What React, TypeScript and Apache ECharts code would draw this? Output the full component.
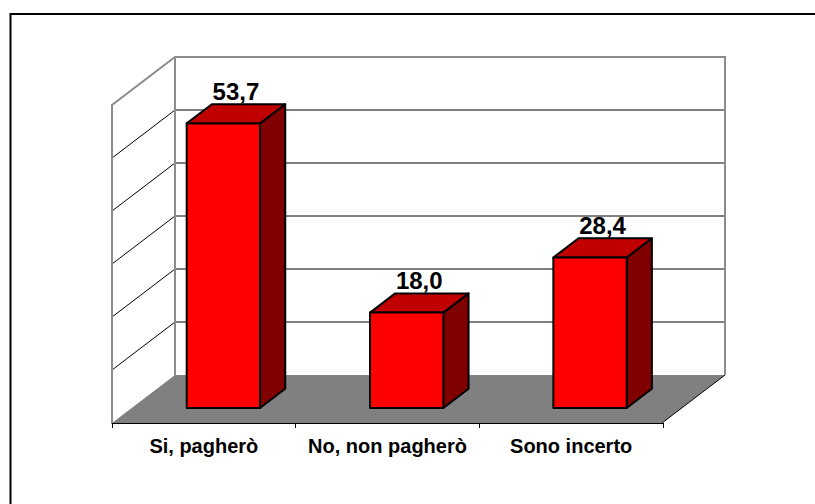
import React, { useEffect, useRef } from "react";
import * as echarts from "echarts";

const categories = ["Si, pagherò", "No, non pagherò", "Sono incerto"];
const values = [53.7, 18.0, 28.4];
const yTicks = [0, 10, 20, 30, 40, 50, 60];

const FONT = "'Liberation Sans', Arial, sans-serif";
// projection of depth (back wall -> front edge of the floor)
const DX = -63;
const DY = 48;
const BAR_FRONT = 0.6875;
const BAR_DEPTH = 0.4;
const BAR_WIDTH = 0.4;

export default function App() {
  const ref = useRef<HTMLDivElement>(null);
  useEffect(() => {
    if (!ref.current) return;
    const chart = echarts.init(ref.current, null, { renderer: "svg" });
    const yMin = yTicks[0];
    const yMax = yTicks[yTicks.length - 1];
    const option: any = {
      animation: false,
      backgroundColor: "#ffffff",
      graphic: [
        {
          type: "rect",
          shape: { x: 10.5, y: 14, width: 900, height: 600 },
          style: { fill: "none", stroke: "#000000", lineWidth: 2 },
          z: 100,
        },
      ],
      grid: [
        { left: 175, right: 90, top: 57, bottom: 129 },
        { left: 112, right: 152, top: 105, bottom: 81 },
      ],
      xAxis: [
        {
          gridIndex: 0,
          type: "category",
          data: categories,
          show: false,
        },
        {
          gridIndex: 1,
          type: "category",
          data: categories,
          z: 10,
          axisLine: { show: true, lineStyle: { color: "#000000", width: 1 } },
          axisTick: { show: true, length: 5, lineStyle: { color: "#000000", width: 1 } },
          axisLabel: {
            interval: 0,
            hideOverlap: false,
            color: "#000000",
            fontFamily: FONT,
            fontWeight: "bold",
            fontSize: 20,
            margin: 13,
          },
        },
      ],
      yAxis: [
        {
          gridIndex: 0,
          type: "value",
          min: yMin,
          max: yMax,
          interval: yTicks[1] - yTicks[0],
          show: false,
          splitLine: { show: false },
        },
        {
          gridIndex: 1,
          type: "value",
          min: yMin,
          max: yMax,
          show: false,
          splitLine: { show: false },
        },
      ],
      series: [
        {
          type: "custom",
          xAxisIndex: 0,
          yAxisIndex: 0,
          z: 1,
          clip: false,
          silent: true,
          data: [[0, 0]],
          renderItem: (params: any, api: any) => {
            const cs = params.coordSys;
            const x0 = cs.x;
            const x1 = cs.x + cs.width;
            const yb = api.coord([0, yMin])[1];
            const yt = api.coord([0, yMax])[1];
            const children: any[] = [];
            children.push({
              type: "polygon",
              shape: {
                points: [
                  [x0, yb],
                  [x1, yb],
                  [x1 + DX, yb + DY],
                  [x0 + DX, yb + DY],
                ],
              },
              style: { fill: "#808080", stroke: "none" },
            });
            children.push({
              type: "line",
              shape: { x1: x1, y1: yb, x2: x1 + DX, y2: yb + DY },
              style: { stroke: "#000000", lineWidth: 1 },
            });
            yTicks.forEach((t) => {
              if (t <= yMin || t >= yMax) return;
              const y = api.coord([0, t])[1];
              children.push({
                type: "line",
                shape: { x1: x0, y1: y, x2: x1, y2: y },
                style: { stroke: "#000000", lineWidth: 1 },
              });
              children.push({
                type: "line",
                shape: { x1: x0 + DX, y1: y + DY, x2: x0, y2: y },
                style: { stroke: "#000000", lineWidth: 1 },
              });
            });
            children.push({
              type: "polyline",
              shape: {
                points: [
                  [x0 + DX, yb + DY],
                  [x0 + DX, yt + DY],
                  [x0, yt],
                  [x1, yt],
                  [x1, yb],
                ],
              },
              style: { stroke: "#8c8c8c", lineWidth: 2, fill: "none" },
            });
            children.push({
              type: "line",
              shape: { x1: x0, y1: yt, x2: x0, y2: yb },
              style: { stroke: "#8c8c8c", lineWidth: 2 },
            });
            return { type: "group", children };
          },
        },
        {
          type: "custom",
          xAxisIndex: 0,
          yAxisIndex: 0,
          z: 2,
          clip: false,
          data: values.map((v, i) => [i, v]),
          renderItem: (params: any, api: any) => {
            const i = api.value(0);
            const v = api.value(1);
            const base = api.coord([i, 0]);
            const top = api.coord([i, v]);
            const bw = api.size([1, 0])[0] * BAR_WIDTH;
            const fx = base[0] + DX * BAR_FRONT;
            const fyb = base[1] + DY * BAR_FRONT;
            const fyt = top[1] + DY * BAR_FRONT;
            const ddx = -DX * BAR_DEPTH;
            const ddy = DY * BAR_DEPTH;
            const l = fx - bw / 2;
            const r = fx + bw / 2;
            const stroke = { stroke: "#000000", lineWidth: 2, lineJoin: "round" };
            const label = v.toFixed(1).replace(".", ",");
            return {
              type: "group",
              children: [
                {
                  type: "polygon",
                  shape: {
                    points: [
                      [r, fyt],
                      [r + ddx, fyt - ddy],
                      [r + ddx, fyb - ddy],
                      [r, fyb],
                    ],
                  },
                  style: { fill: "#800000", ...stroke },
                },
                {
                  type: "polygon",
                  shape: {
                    points: [
                      [l, fyt],
                      [l + ddx, fyt - ddy],
                      [r + ddx, fyt - ddy],
                      [r, fyt],
                    ],
                  },
                  style: { fill: "#c00000", ...stroke },
                },
                {
                  type: "rect",
                  shape: { x: l, y: fyt, width: bw, height: fyb - fyt },
                  style: { fill: "#ff0000", ...stroke },
                },
                {
                  type: "text",
                  x: fx + ddx / 2,
                  y: fyt - ddy - 1,
                  style: {
                    text: label,
                    fill: "#000000",
                    font: `bold 24px ${FONT}`,
                    textAlign: "center",
                    textVerticalAlign: "bottom",
                  },
                },
              ],
            };
          },
        },
      ],
    };
    chart.setOption(option);
    return () => chart.dispose();
  }, []);
  return (
    <div
      ref={ref}
      style={{ position: "fixed", left: 0, top: 0, width: 815, height: 504 }}
    />
  );
}
